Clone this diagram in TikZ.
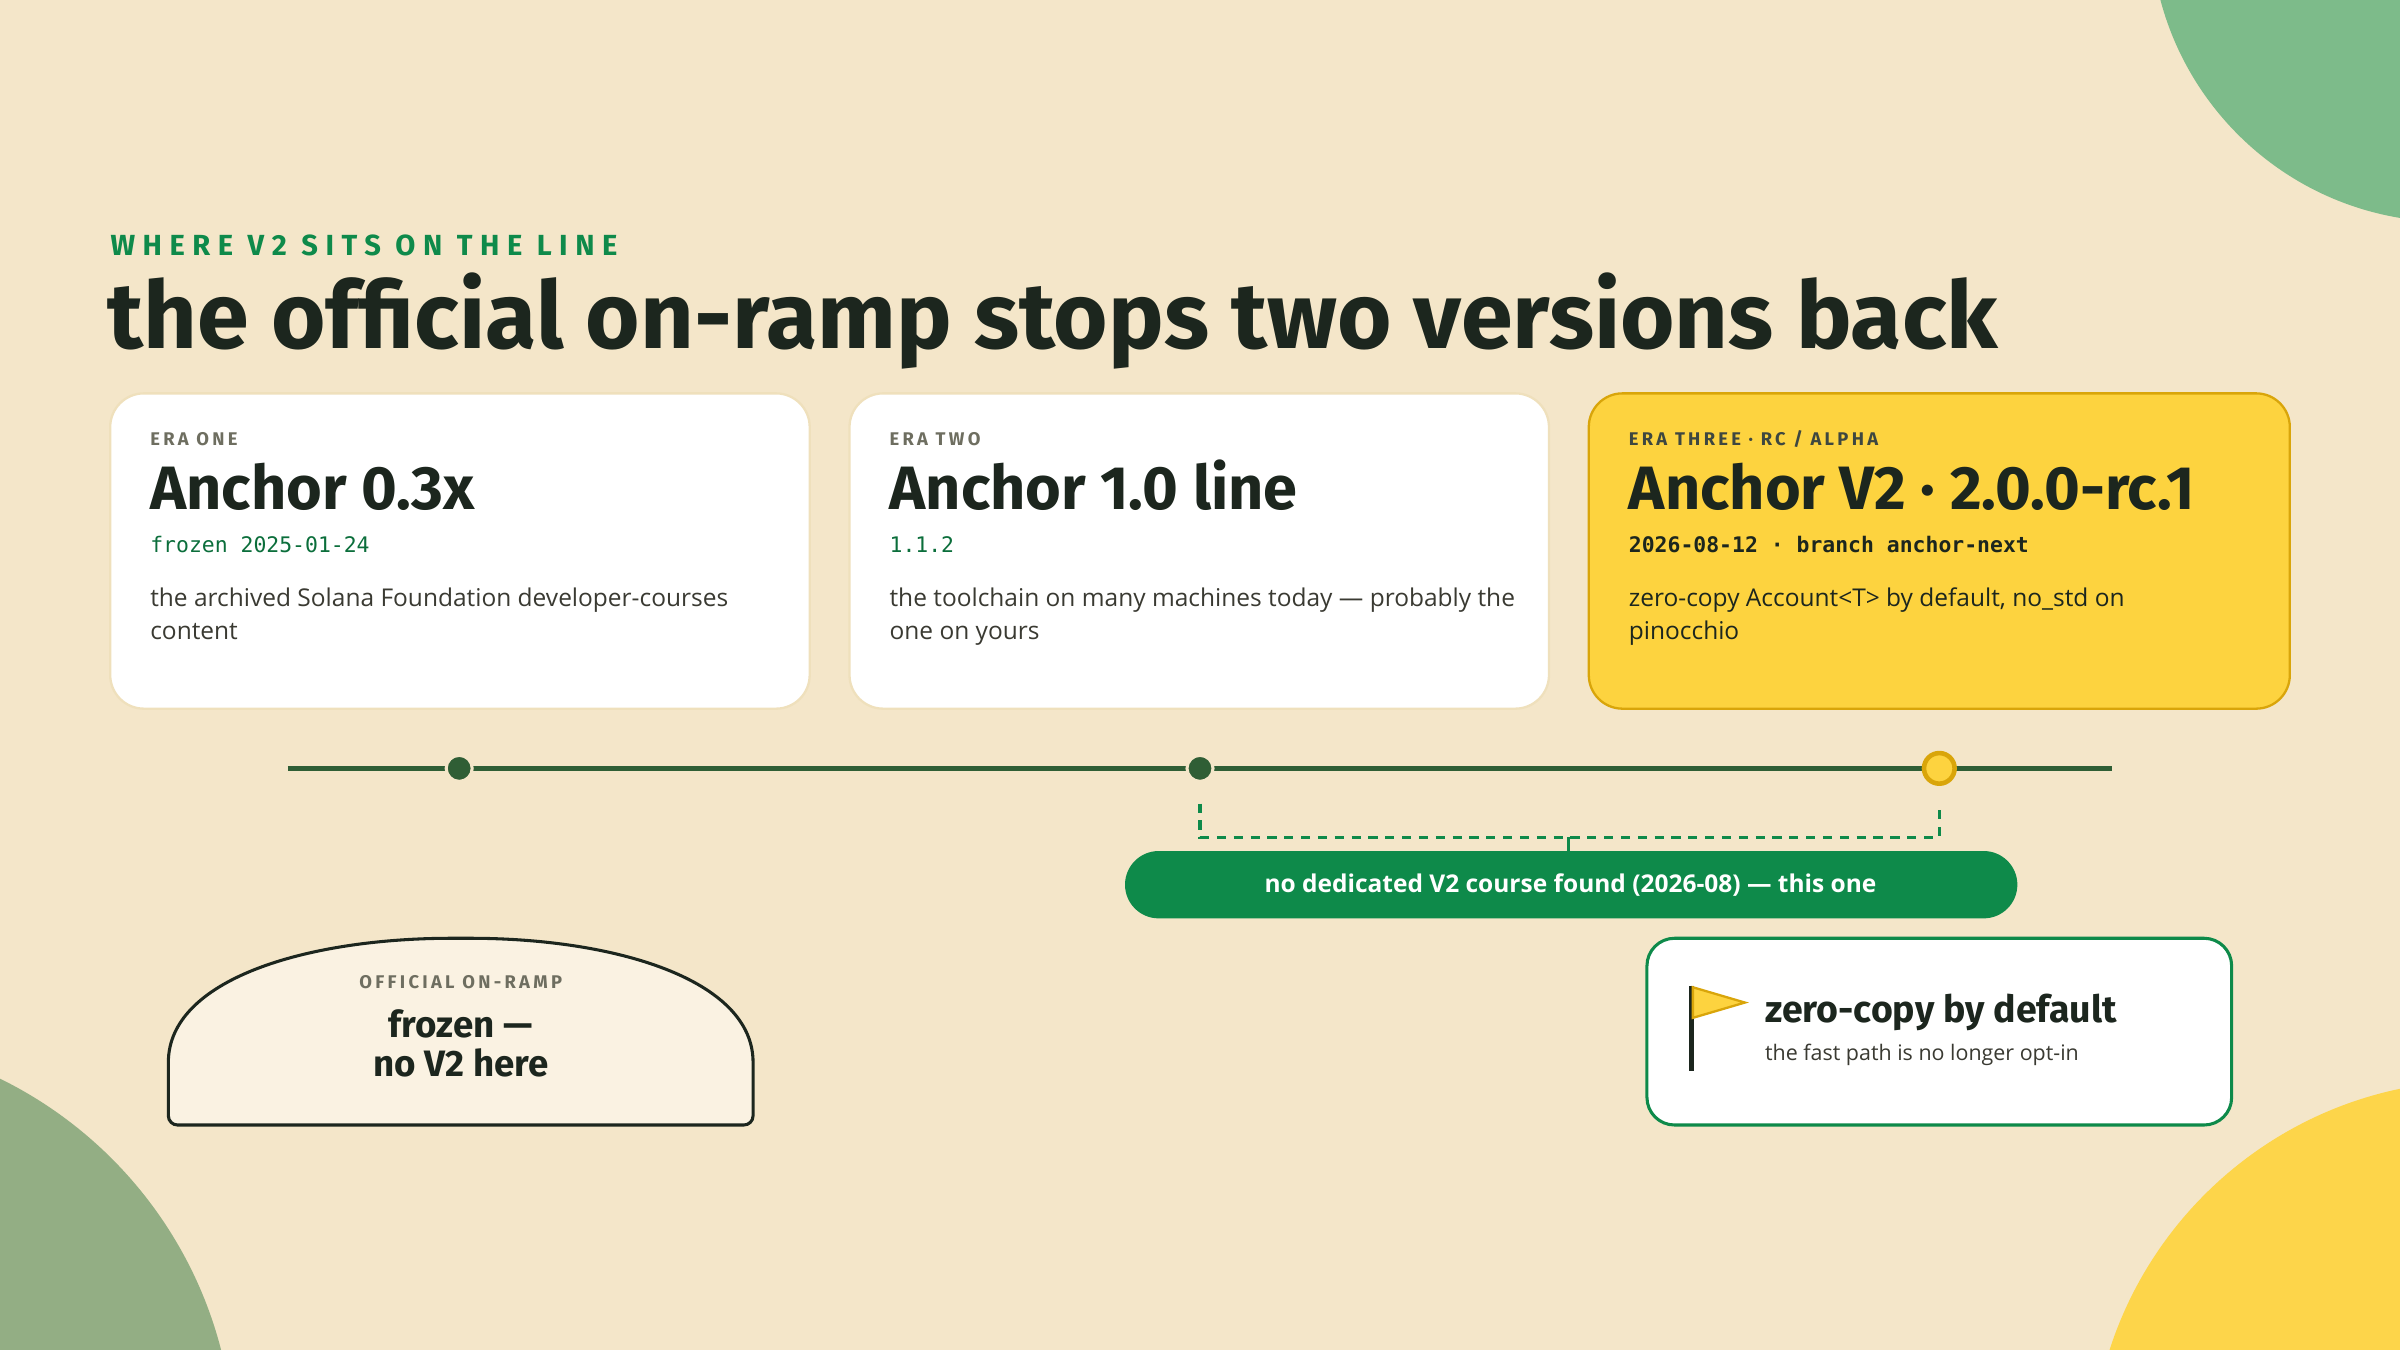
\documentclass[tikz,border=0pt]{standalone}
\usepackage{fontspec}
\setmainfont{Open Sans}
\newfontfamily\head{Fira Sans}
\newfontfamily\mono{DejaVu Sans Mono}
\newfontfamily\caps{Fira Sans}[LetterSpace=18]
\newfontfamily\capsw{Fira Sans}[LetterSpace=26]
\definecolor{bg}{HTML}{F4E6C9}
\definecolor{ink}{HTML}{1C261E}
\definecolor{grn}{HTML}{0E8A4A}
\definecolor{dgrn}{HTML}{2F5E35}
\definecolor{ylw}{HTML}{FDD33F}
\definecolor{gold}{HTML}{D9A50A}
\definecolor{grey}{HTML}{6E6E60}
\definecolor{body}{HTML}{3A3A32}
\definecolor{cborder}{HTML}{EFE0BC}
\begin{document}
\begin{tikzpicture}[x=1pt,y=-1pt,
  card/.style={rounded corners=22pt,line width=1.5pt},
  lbl/.style={anchor=base west,inner sep=0,text=grey,font=\fontsize{12}{14}\caps\bfseries},
  ttl/.style={anchor=base west,inner sep=0,text=ink,font=\fontsize{40}{42}\head\bfseries},
  mn/.style={anchor=base west,inner sep=0,font=\fontsize{14}{16}\mono},
  bd/.style={anchor=base west,inner sep=0,text=body,font=\fontsize{16}{22}\selectfont,align=left},
  dot/.style={circle,inner sep=0,minimum size=17pt,fill=dgrn,draw=bg,line width=2pt}]
\fill[bg] (0,0) rectangle (1568,882);
\useasboundingbox (0,0) rectangle (1568,882);
\begin{scope}
\clip (0,0) rectangle (1568,882);
\fill[color={rgb,255:red,125;green,187;blue,138}] (1600,-50) circle (195);
\fill[color={rgb,255:red,147;green,174;blue,132}] (-120,950) circle (273);
\fill[color={rgb,255:red,253;green,213;blue,74}] (1620,960) circle (254);
\end{scope}
\node[anchor=base west,inner sep=0,text=grn,font=\fontsize{19}{21}\capsw\bfseries] (sub) at (72,167) {WHERE V2 SITS ON THE LINE};
\node[anchor=base west,inner sep=0,text=ink,font=\fontsize{61}{63}\head\bfseries] (title) at (70,228) {the official on-ramp stops two versions back};
% cards
\draw[card,fill=white,draw=cborder] (72,257) rectangle (529,463);
\draw[card,fill=white,draw=cborder] (555,257) rectangle (1012,463);
\draw[card,fill=ylw,draw=gold] (1038,257) rectangle (1496,463);
\node[lbl] (l1) at (98,291) {ERA ONE};
\node[ttl] (t1) at (98,333) {Anchor 0.3x};
\node[mn,text=grn!80!black] (m1) at (98,361) {frozen 2025-01-24};
\node[bd] (b1) at (98,418) {the archived Solana Foundation developer-courses\\content};
\node[lbl] (l2) at (581,291) {ERA TWO};
\node[ttl] (t2) at (581,333) {Anchor 1.0 line};
\node[mn,text=grn!80!black] (m2) at (581,361) {1.1.2};
\node[bd] (b2) at (581,418) {the toolchain on many machines today — probably the\\one on yours};
\node[lbl,text=ink!85] (l3) at (1064,291) {ERA THREE · RC / ALPHA};
\node[ttl] (t3) at (1064,333) {Anchor V2 · 2.0.0-rc.1};
\node[mn,text=ink,font=\fontsize{14}{16}\mono\bfseries] (m3) at (1064,361) {2026-08-12 · branch anchor-next};
\node[bd,text=ink] (b3) at (1064,418) {zero-copy Account<T> by default, no\_std on\\pinocchio};
% timeline
\coordinate (ts) at (188,502);
\coordinate (te) at (1380,502);
\draw[dgrn,line width=3pt] (ts) -- (te);
\node[dot] (d1) at (300,502) {};
\node[dot] (d2) at (784,502) {};
\node[circle,inner sep=0,minimum size=20pt,fill=ylw,draw=gold,line width=3pt] (d3) at (1267,502) {};
% bracket
\coordinate (a1) at (784,525); \coordinate (a2) at (784,547);
\coordinate (a3) at (1267,547); \coordinate (a4) at (1267,525);
\coordinate (c1) at (1025,547); \coordinate (c2) at (1025,556);
\draw[grn,line width=2pt,dash pattern=on 6pt off 5pt] (a1) -- (a2) -- (a3) -- (a4);
\draw[grn,line width=2pt] (c1) -- (c2);
\draw[fill=grn,draw=none,rounded corners=22pt] (735,556) rectangle (1318,600);
\node[inner sep=0,text=white,font=\fontsize{16}{18}\selectfont\bfseries] (pill) at (1026,578) {no dedicated V2 course found (2026-08) — this one};
% dome
\draw[fill={rgb,255:red,250;green,242;blue,226},draw=ink,line width=2pt,rounded corners=6pt]
  (110,735) -- (110,700) .. controls (110,640) and (200,613) .. (301,613)
  .. controls (402,613) and (492,640) .. (492,700) -- (492,735) -- cycle;
\node[anchor=base,inner sep=0,text=grey,font=\fontsize{12}{14}\caps\bfseries] (dl) at (301,646) {OFFICIAL ON-RAMP};
\node[anchor=base,inner sep=0,text=ink,font=\fontsize{24}{25}\head\bfseries,align=center] (dt) at (301,703) {frozen —\\no V2 here};
% callout
\draw[fill=white,draw=grn,line width=2pt,rounded corners=18pt] (1076,613) rectangle (1458,735);
\coordinate (p1) at (1105,644); \coordinate (p2) at (1105,700);
\draw[ink,line width=3pt] (p1) -- (p2);
\draw[fill=ylw,draw=gold,line width=1.5pt] (1106,645) -- (1140,655) -- (1106,665) -- cycle;
\node[anchor=base west,inner sep=0,text=ink,font=\fontsize{24.5}{26}\head\bfseries] (ct) at (1153,668) {zero-copy by default};
\node[anchor=base west,inner sep=0,text=body,font=\fontsize{14}{16}\selectfont] (cs) at (1153,693) {the fast path is no longer opt-in};
\end{tikzpicture}
\end{document}
